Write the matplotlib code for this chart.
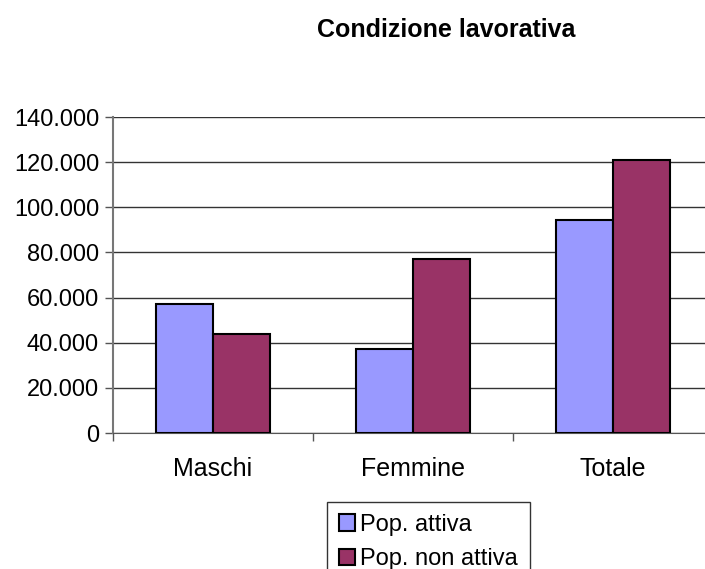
import numpy as np
import matplotlib
matplotlib.use("Agg")
import matplotlib.pyplot as plt
from matplotlib.ticker import FuncFormatter

plt.rcParams['font.family'] = ['Liberation Sans', 'DejaVu Sans']

categories = ["Maschi", "Femmine", "Totale"]
attiva = [57050, 37200, 94250]
non_attiva = [43830, 77070, 120900]
series_names = ["Pop. attiva", "Pop. non attiva"]

fig = plt.figure(figsize=(7.05, 5.69), dpi=100)
ax = fig.add_axes([113 / 705, 1 - 433 / 569, 600 / 705, (433 - 117) / 569])

x = np.arange(len(categories))
w = 0.285
ax.bar(x - w / 2, attiva, w, color="#9999FF", edgecolor="black", linewidth=1.5,
       label=series_names[0], zorder=3)
ax.bar(x + w / 2, non_attiva, w, color="#993366", edgecolor="black", linewidth=1.5,
       label=series_names[1], zorder=3)

ax.set_xlim(-0.5, 2.5)
ax.set_ylim(0, 140000)
ax.set_yticks(np.arange(0, 140001, 20000))
ax.yaxis.set_major_formatter(FuncFormatter(lambda v, p: f"{int(v):,}".replace(",", ".")))
ax.grid(axis="y", color="#333333", linewidth=1, zorder=0)

ax.set_xticks(x)
ax.set_xticklabels(categories)
ax.set_xticks([-0.5, 0.5, 1.5, 2.5], minor=True)
ax.tick_params(axis="x", which="major", length=0, pad=17, labelsize=18)
ax.tick_params(axis="x", which="minor", length=6, width=1, color="#555555")
ax.tick_params(axis="y", length=6, width=1, color="#555555", labelsize=17, pad=4)

for s in ["top", "right"]:
    ax.spines[s].set_visible(False)
ax.spines["left"].set_color("#777777")
ax.spines["left"].set_linewidth(1.5)
ax.spines["bottom"].set_color("#555555")

fig.text(446 / 705, 1 - 30 / 569, "Condizione lavorativa", ha="center", va="center",
         fontsize=18, fontweight="bold")

leg = fig.legend(loc="upper left", bbox_to_anchor=(327 / 705, 1 - 502 / 569),
                 fontsize=17, frameon=True, fancybox=False, edgecolor="black",
                 handlelength=0.7, handleheight=0.7, handletextpad=0.2,
                 borderpad=0.5, labelspacing=0.52, borderaxespad=0)
leg.get_frame().set_linewidth(1)

fig.savefig("out.png", dpi=100)
